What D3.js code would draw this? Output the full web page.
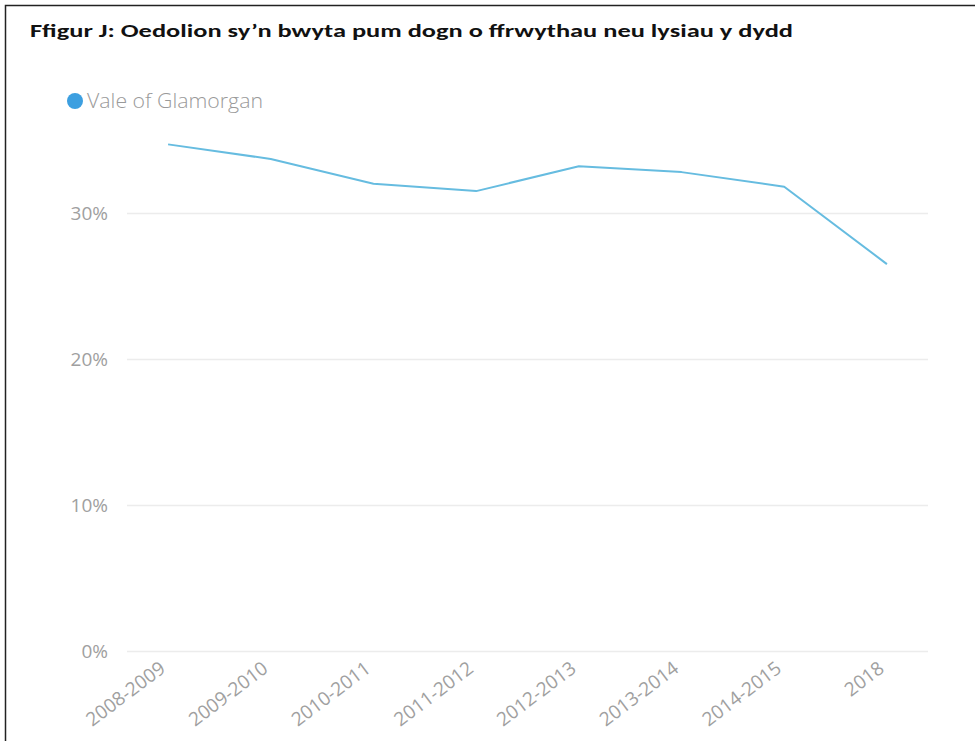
<!DOCTYPE html>
<html>
<head>
<meta charset="utf-8">
<script src="https://cdn.jsdelivr.net/npm/d3@7"></script>
<style>
	body { margin: 0; background: #fff; }
	svg { display: block; }
</style>
</head>
<body>
<svg id="chart" width="975" height="741"></svg>
<script>
var periods = ['2008-2009', '2009-2010', '2010-2011', '2011-2012', '2012-2013', '2013-2014', '2014-2015', '2018'];
var valeValues = [34.7, 33.7, 32.0, 31.5, 33.2, 32.8, 31.8, 26.5];
var yTicks = [0, 10, 20, 30];
var seriesName = 'Vale of Glamorgan';
var titleText = 'Ffigur J: Oedolion sy\u2019n bwyta pum dogn o ffrwythau neu lysiau y dydd';

var svg = d3.select('#chart');

// Frame (left + top edges of the cropped box)
svg.append('path')
	.attr('d', 'M5.5,741 V5.5 H975')
	.attr('fill', 'none')
	.attr('stroke', '#222')
	.attr('stroke-width', 1.5);

svg.append('text')
	.attr('x', 30)
	.attr('y', 37)
	.attr('font-family', 'Carlito, "Open Sans", sans-serif')
	.attr('font-weight', 'bold')
	.attr('font-size', 18)
	.attr('fill', '#111')
	.attr('textLength', 763)
	.attr('lengthAdjust', 'spacingAndGlyphs')
	.text(titleText);

/* Legend */
var legend = svg.append('g').attr('transform', 'translate(75,101)');
legend.append('circle')
	.attr('r', 8)
	.attr('fill', '#3c9fe0');
legend.append('text')
	.attr('x', 12)
	.attr('dy', '0.35em')
	.attr('font-family', '"Open Sans", sans-serif')
	.attr('font-weight', 300)
	.attr('font-size', 20)
	.attr('fill', '#9a9a9a')
	.attr('textLength', 176)
	.attr('lengthAdjust', 'spacingAndGlyphs')
	.text(seriesName);

var x = d3.scalePoint()
	.domain(periods)
	.range([127, 928])
	.padding(0.4);

var y = d3.scaleLinear()
	.domain([0, 30])
	.range([651, 213]);

/* Grid lines + y labels */
var yAxis = svg.append('g')
	.attr('transform', 'translate(127,0)')
	.call(d3.axisLeft(y)
		.tickValues(yTicks)
		.tickSize(-801)
		.tickPadding(19)
		.tickFormat(function(d) { return d + '%'; }));
yAxis.select('.domain').remove();
yAxis.selectAll('.tick line')
	.attr('stroke', '#ececec')
	.attr('stroke-width', 1.5);
yAxis.selectAll('.tick text')
	.attr('font-family', '"Open Sans", sans-serif')
	.attr('font-size', 19)
	.attr('fill', '#a0a0a0');

/* X labels */
var xAxis = svg.append('g')
	.attr('transform', 'translate(0,651)')
	.call(d3.axisBottom(x).tickSize(0).tickPadding(0));
xAxis.select('.domain').remove();
xAxis.selectAll('.tick text')
	.attr('font-family', '"Open Sans", sans-serif')
	.attr('font-size', 19)
	.attr('fill', '#a0a0a0')
	.attr('text-anchor', 'end')
	.attr('dy', null)
	.attr('y', null)
	.attr('transform', 'translate(-2,20) rotate(-37)');

/* Series line */
var line = d3.line()
	.x(function(d, i) { return x(periods[i]); })
	.y(function(d) { return y(d); });

svg.append('path')
	.datum(valeValues)
	.attr('fill', 'none')
	.attr('stroke', '#66bce0')
	.attr('stroke-width', 2)
	.attr('stroke-linejoin', 'round')
	.attr('d', line);
</script>
</body>
</html>
